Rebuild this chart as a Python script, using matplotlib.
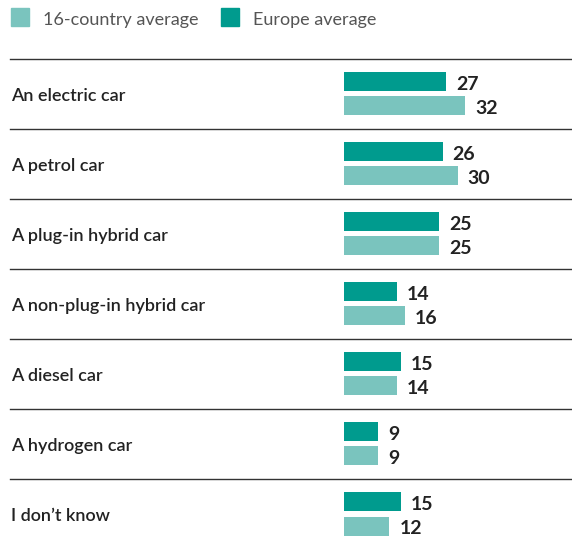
import matplotlib.pyplot as plt
from matplotlib.patches import Rectangle
import matplotlib.transforms as mtransforms

categories = ["An electric car", "A petrol car", "A plug-in hybrid car",
              "A non-plug-in hybrid car", "A diesel car", "A hydrogen car",
              "I don\u2019t know"]
europe = [27, 26, 25, 14, 15, 9, 15]
country16 = [32, 30, 25, 16, 14, 9, 12]

dark = "#009B8E"
light = "#7AC4BE"
plt.rcParams['font.family'] = ['Lato', 'DejaVu Sans']

W, H = 572, 545
fig = plt.figure(figsize=(W / 100, H / 100), dpi=100)
ax = fig.add_axes([0, 0, 1, 1])

ppu = 3.79          # pixels per value unit
x0 = 344            # pixel where bars start
ax.set_xlim(-x0 / ppu, (W - x0) / ppu)
ax.set_ylim((H - 94) / 70, -94 / 70)
ax.axis("off")

pos = list(range(len(categories)))
off = 12 / 70
bh = 19 / 70
b1 = ax.barh([p - off for p in pos], europe, height=bh, color=dark)
b2 = ax.barh([p + off for p in pos], country16, height=bh, color=light)

for bars, vals in ((b1, europe), (b2, country16)):
    for bar, v in zip(bars, vals):
        ax.annotate(str(v), (v, bar.get_y() + bar.get_height() / 2),
                    xytext=(10, -3), textcoords="offset pixels",
                    ha="left", va="center", fontsize=14,
                    fontweight="bold", color="#222222")

trans = mtransforms.blended_transform_factory(ax.transAxes, ax.transData)
for p, c in zip(pos, categories):
    ax.text(11 / W, p + 2 / 70, c, transform=trans, ha="left", va="center",
            fontsize=13, fontweight="semibold", color="#222222")
    ax.plot([10 / W, 1], [p - 0.5, p - 0.5], transform=trans,
            color="#333333", lw=1)

# legend
for (lx, tx, col, lab) in ((11, 43, light, "16-country average"),
                           (221, 253, dark, "Europe average")):
    fig.patches.append(Rectangle((lx / W, 1 - 26 / H), 18 / W, 18 / H,
                                 transform=fig.transFigure, color=col))
    fig.text(tx / W, 1 - 20 / H, lab, ha="left", va="center",
             fontsize=13, color="#555555")

fig.savefig("out.png", dpi=100)
